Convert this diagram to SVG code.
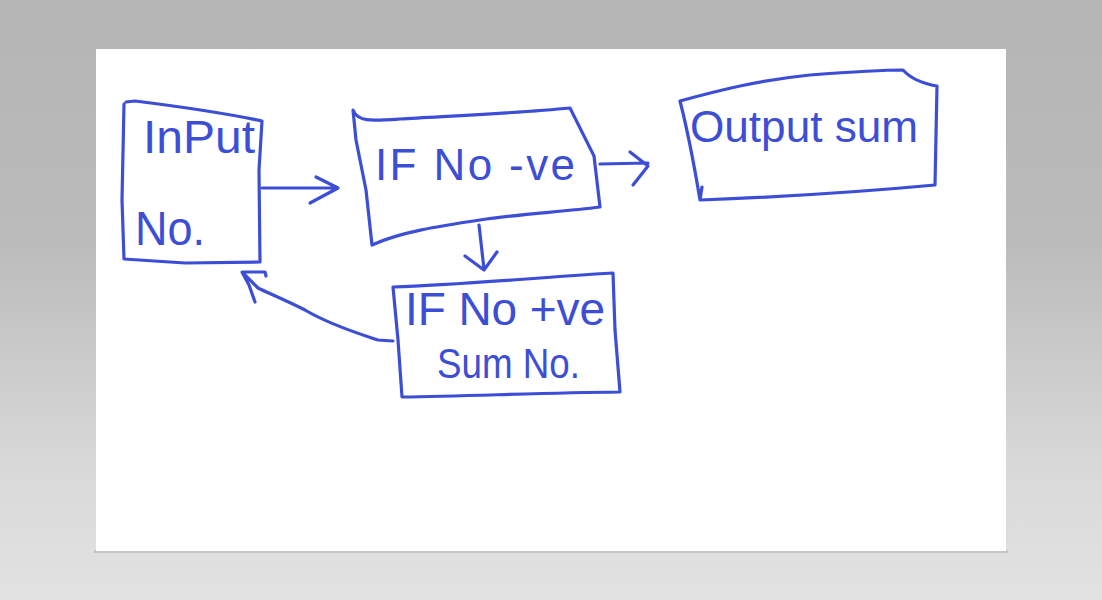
<svg xmlns="http://www.w3.org/2000/svg" width="1102" height="600" viewBox="0 0 1102 600">
  <defs>
    <linearGradient id="bg" x1="0" y1="0" x2="0" y2="1">
      <stop offset="0" stop-color="#b4b5b4"/>
      <stop offset="0.4" stop-color="#babbba"/>
      <stop offset="0.8" stop-color="#d9dad9"/>
      <stop offset="1" stop-color="#e1e2e1"/>
    </linearGradient>
    <style>
      .ink { fill: none; stroke: #3d4ed6; stroke-width: 3.2; stroke-linecap: round; stroke-linejoin: round; }
      .txt { fill: #3d4ed6; font-family: "Liberation Sans", "DejaVu Sans", sans-serif; }
    </style>
  </defs>
  <rect x="0" y="0" width="1102" height="600" fill="url(#bg)"/>
  <rect x="94" y="550" width="914" height="3" fill="#c4c5c4"/>
  <rect x="96" y="49" width="910" height="502" fill="#ffffff"/>

  <g id="node-input">
    <path class="ink" d="M126,102 L135,101 C175,106 220,112 262,121 L259,170 L260,262 L185,263 L124,259 L122,200 L124,104"/>
    <text class="txt" x="143" y="153" font-size="46" textLength="112" lengthAdjust="spacingAndGlyphs">InPut</text>
    <text class="txt" x="135" y="245" font-size="48" textLength="70" lengthAdjust="spacingAndGlyphs">No.</text>
  </g>

  <g id="node-neg">
    <path class="ink" d="M353,110 C358,122 370,121 400,119 C450,116 520,113 570,108 L594,156 L600,207 C560,212 520,214 480,220 C440,226 400,232 372,245 L366,190 L356,140 Z"/>
    <text class="txt" x="375" y="180" font-size="44" textLength="200" lengthAdjust="spacing">IF No -ve</text>
  </g>

  <g id="node-output">
    <path class="ink" d="M680,101 C720,90 760,80 810,75 C850,72 880,70 903,70 C912,80 925,84 937,86 L935,185 C860,192 780,197 700,200 L702,187 M700,200 C695,170 690,140 680,101"/>
    <text class="txt" x="690" y="142" font-size="44" textLength="228" lengthAdjust="spacingAndGlyphs">Output sum</text>
  </g>

  <g id="node-pos">
    <path class="ink" d="M393,287 C460,285 530,278 613,273 L615,330 L620,392 C540,393 470,396 402,397 L398,340 L393,287"/>
    <text class="txt" x="405" y="325" font-size="46" textLength="200" lengthAdjust="spacing">IF No +ve</text>
    <text class="txt" x="437" y="378" font-size="42" textLength="143" lengthAdjust="spacingAndGlyphs">Sum No.</text>
  </g>

  <g id="connectors">
    <path class="ink" d="M262,188 L338,188 M316,177 L338,188 L310,203"/>
    <path class="ink" d="M600,164 L648,163 M630,152 L648,166 L633,185"/>
    <path class="ink" d="M479,225 L484,269 M465,256 L484,270 L497,252"/>
    <path class="ink" d="M393,341 L378,340 C360,334 330,325 305,310 C285,300 268,293 258,288 L244,274 M266,276 L265,272 L242,272 L249,285 L255,302"/>
  </g>
</svg>
